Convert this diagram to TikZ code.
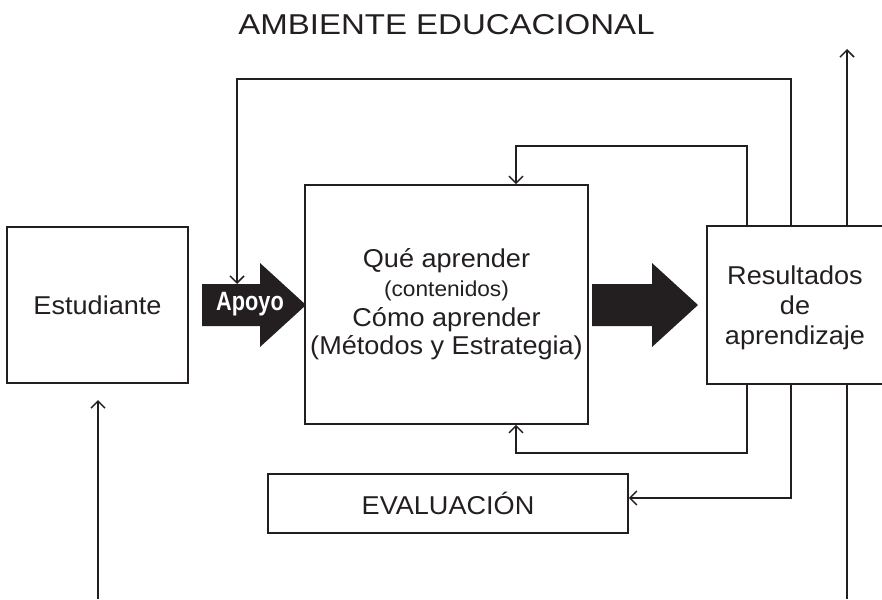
\documentclass[tikz,border=0pt]{standalone}
\usepackage{fontspec}
\setmainfont{Liberation Sans}[FakeStretch=1.05]
\newfontfamily\titlefont{Liberation Sans}[FakeStretch=1.15]
\newfontfamily\apoyofont{Liberation Sans}[FakeStretch=0.82]
\usetikzlibrary{arrows.meta}
\definecolor{ink}{HTML}{231F20}
\begin{document}
\begin{tikzpicture}[x=1pt,y=-1pt,
  box/.style={draw=ink, line width=1.7pt, rectangle, inner sep=0pt, align=center, text=ink,
              font=\fontsize{25.8}{30}\selectfont},
  conn/.style={draw=ink, line width=1.5pt, -{Straight Barb[length=7pt,width=14pt]}},
  plain/.style={draw=ink, line width=1.5pt},
  bigarrow/.style={fill=ink}]
\useasboundingbox (0,0) rectangle (882,599);

% title
\node[anchor=base, text=ink, font=\titlefont\fontsize{28.7}{30}\selectfont] (title) at (446.5,35) {AMBIENTE EDUCACIONAL};

% boxes
\node[box, minimum width=181pt, minimum height=156pt] (estud) at (97.5,305) {Estudiante};
\node[box, minimum width=283pt, minimum height=239pt] (mid) at (446.5,304.5)
  {Qué aprender\\[-1pt]{\fontsize{21.6}{29}\selectfont (contenidos)}\\Cómo aprender\\[-2pt](Métodos y Estrategia)};
\node[box, draw=none, minimum width=174pt, minimum height=156pt] (res) at (795,305)
  {\rule{0pt}{25pt}Resultados\\de\\aprendizaje};
\draw[plain, line width=1.7pt] (res.north east) -- (res.north west) -- (res.south west) -- (res.south east);
\node[box, minimum width=360pt, minimum height=59pt] (eval) at (448,503.5) {EVALUACIÓN};

% block arrows
\fill[bigarrow] (202,284) -- (260,284) -- (260,263) -- (306,305) -- (260,347) -- (260,326) -- (202,326) -- cycle;
\node[anchor=base, text=white, font=\apoyofont\bfseries\fontsize{26.5}{28}\selectfont, inner sep=0pt] (apoyo) at (250,310) {Apoyo};
\fill[bigarrow] (592,284) -- (652,284) -- (652,263) -- (698,305) -- (652,347) -- (652,326) -- (592,326) -- cycle;

% helper coordinates
\coordinate (xa) at (791,0);
\coordinate (xb) at (747,0);
\coordinate (xc) at (847,0);
\coordinate (xd) at (516,0);
\coordinate (ya) at (0,498);
\coordinate (apoyotop) at (237,284);
\coordinate (topout) at (847,49);
\coordinate (botout) at (847,599);
\coordinate (studin) at (98,599);
\coordinate (studtip) at (98,400);

% connectors
\draw[conn] (res.north -| xa) -- ++(0,-147) -| (apoyotop);
\draw[conn] (res.north -| xb) -- ++(0,-80) -| (mid.north -| xd);
\draw[conn] (res.south -| xb) -- ++(0,69) -| (mid.south -| xd);
\draw[conn] (res.south -| xa) |- (eval.east |- ya);
\draw[conn] (res.north -| xc) -- (topout);
\draw[plain] (res.south -| xc) -- (botout);
\draw[conn] (studin) -- (studtip);
\end{tikzpicture}
\end{document}
